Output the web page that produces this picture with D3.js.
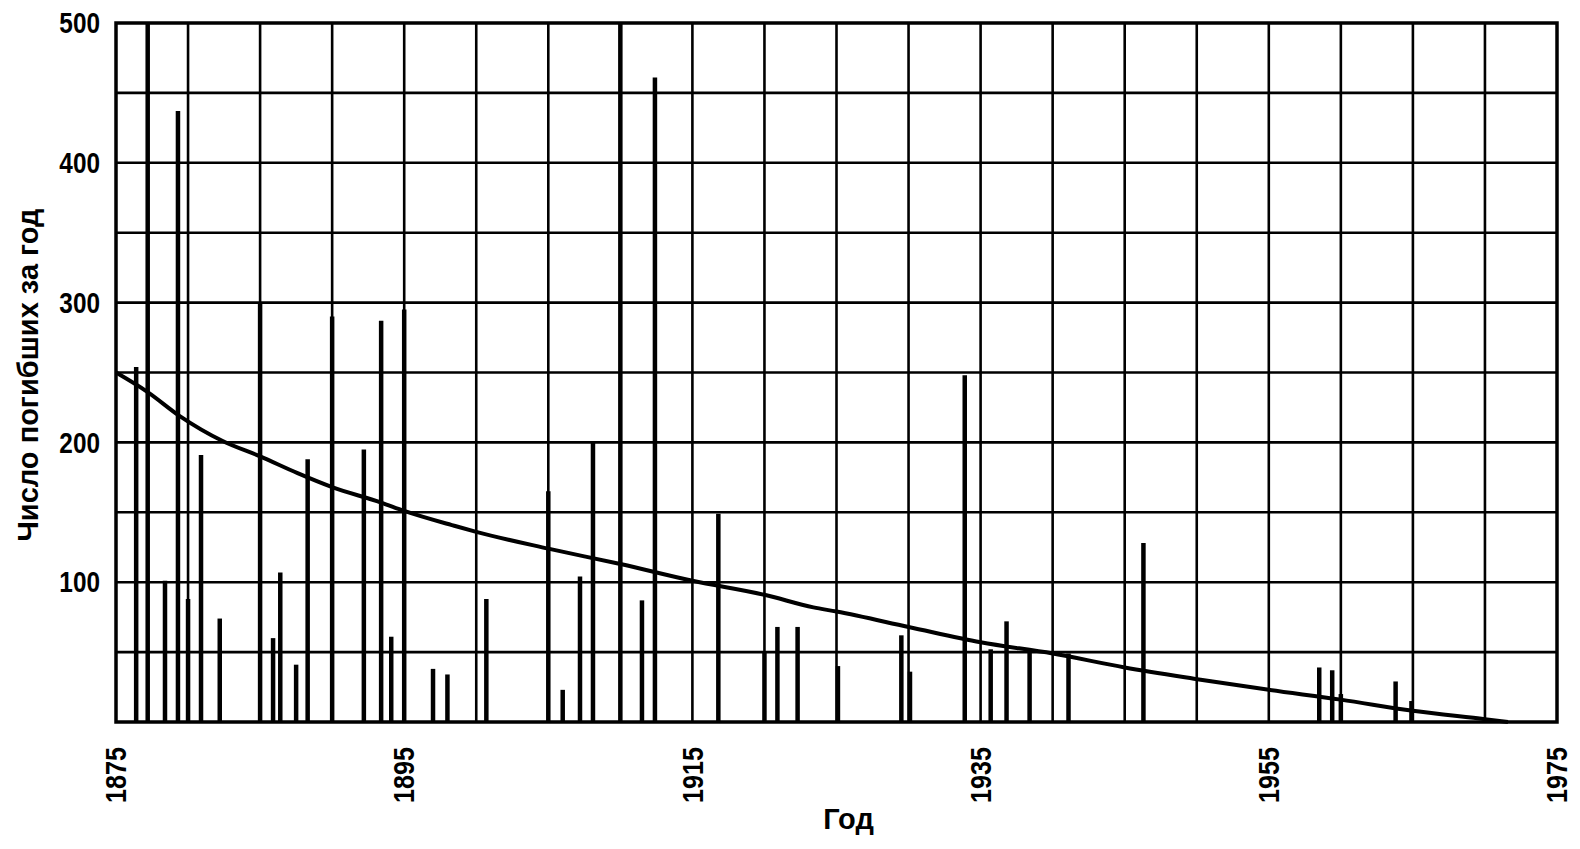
<!DOCTYPE html>
<html>
<head>
<meta charset="utf-8">
<script src="https://d3js.org/d3.v7.min.js"></script>
<style>
  body { margin: 0; background: #fff; }
  text { font-family: "Liberation Sans", Arial, sans-serif; font-weight: bold; fill: #000; }
</style>
</head>
<body>
<div id="my_dataviz"></div>
<script>
// deaths per year (bars), year positions
var barYears  = [1876.4, 1877.2, 1878.4, 1879.3, 1880.0, 1880.9, 1882.2, 1885.0, 1885.9, 1886.4,
                 1887.5, 1888.3, 1890.0, 1892.2, 1893.4, 1894.1, 1895.0, 1897.0, 1898.0, 1900.7,
                 1905.0, 1906.0, 1907.2, 1908.1, 1910.0, 1911.5, 1912.4, 1916.8, 1920.0, 1920.9,
                 1922.3, 1925.1, 1929.5, 1930.1, 1933.9, 1935.7, 1936.8, 1938.4, 1941.1, 1946.3,
                 1958.5, 1959.4, 1960.0, 1963.8, 1964.9];
var barValues = [254, 500, 101, 437, 88, 191, 74, 300, 60, 107,
                 41, 188, 290, 195, 287, 61, 295, 38, 34, 88,
                 165, 23, 104, 200, 500, 87, 461, 149, 50, 68,
                 68, 40, 62, 36, 248, 52, 72, 50, 49, 128,
                 39, 37, 20, 29, 15];

// trend curve
var trendYears  = [1875, 1877.2, 1879.4, 1882.4, 1885, 1887.6, 1890, 1893.4, 1895, 1898.6,
                   1900, 1905, 1910, 1915, 1920, 1923.4, 1925, 1930, 1935, 1940,
                   1945, 1949.8, 1955, 1960, 1965, 1970, 1971.6];
var trendValues = [250, 236, 219, 201, 190, 178, 168, 157, 151, 140,
                   136, 124, 113, 101, 91, 82, 79, 68, 57, 49,
                   39, 31, 23, 16, 8, 2, 0];

var xTickLabels = [1875, 1895, 1915, 1935, 1955, 1975];
var yTickLabels = [100, 200, 300, 400, 500];

var margin = {top: 23, right: 23, bottom: 127, left: 116},
    width = 1580 - margin.left - margin.right,
    height = 849 - margin.top - margin.bottom;

var svg = d3.select("#my_dataviz")
    .append("svg")
    .attr("width", 1580)
    .attr("height", 849)
    .append("g")
    .attr("transform", "translate(" + margin.left + "," + margin.top + ")");

var x = d3.scaleLinear()
    .domain([1875, 1975])
    .range([0, width]);

var y = d3.scaleLinear()
    .domain([0, 500])
    .range([height, 0]);

// grid: every 5 years and every 50 deaths
svg.append("g")
    .selectAll("line")
    .data(d3.range(1880, 1975, 5))
    .enter()
    .append("line")
    .attr("x1", function(d) { return x(d) })
    .attr("x2", function(d) { return x(d) })
    .attr("y1", 0)
    .attr("y2", height)
    .attr("stroke", "#000")
    .attr("stroke-width", 2.6);

svg.append("g")
    .selectAll("line")
    .data(d3.range(50, 500, 50))
    .enter()
    .append("line")
    .attr("x1", 0)
    .attr("x2", width)
    .attr("y1", function(d) { return y(d) })
    .attr("y2", function(d) { return y(d) })
    .attr("stroke", "#000")
    .attr("stroke-width", 2.6);

// bars
svg.append("g")
    .selectAll("line")
    .data(barYears)
    .enter()
    .append("line")
    .attr("x1", function(d) { return x(d) })
    .attr("x2", function(d) { return x(d) })
    .attr("y1", height)
    .attr("y2", function(d, i) { return y(barValues[i]) })
    .attr("stroke", "#000")
    .attr("stroke-width", 4.5);

// trend line
var line = d3.line()
    .x(function(d) { return x(d) })
    .y(function(d, i) { return y(trendValues[i]) })
    .curve(d3.curveMonotoneX);
svg.append("path")
    .attr("d", line(trendYears))
    .attr("fill", "none")
    .attr("stroke", "#000")
    .attr("stroke-width", 4);

// frame
svg.append("rect")
    .attr("width", width)
    .attr("height", height)
    .attr("fill", "none")
    .attr("stroke", "#000")
    .attr("stroke-width", 3.5);

// y tick labels (digits are narrow in the original)
svg.append("g")
    .selectAll("text")
    .data(yTickLabels)
    .enter()
    .append("text")
    .attr("transform", function(d) { return "translate(-16," + y(d) + ") scale(0.84,1)" })
    .attr("dy", "0.35em")
    .style("text-anchor", "end")
    .style("font-size", "29px")
    .text(function(d) { return d });

// x tick labels, rotated
svg.append("g")
    .selectAll("text")
    .data(xTickLabels)
    .enter()
    .append("text")
    .attr("transform", function(d) { return "translate(" + x(d) + "," + (height + 25) + ") rotate(-90) scale(0.87,1)" })
    .attr("dy", "0.35em")
    .style("text-anchor", "end")
    .style("font-size", "29px")
    .text(function(d) { return d });

svg.append("text")      // x axis title
    .attr("x", x(1925) + 12)
    .attr("y", height + 107)
    .style("text-anchor", "middle")
    .style("font-size", "29px")
    .text("Год");

svg.append("text")      // y axis title
    .attr("transform", "rotate(-90)")
    .attr("x", 0 - 352)
    .attr("y", 0 - margin.left + 28)
    .attr("dy", "0.35em")
    .style("text-anchor", "middle")
    .style("font-size", "29px")
    .text("Число погибших за год");
</script>
</body>
</html>
